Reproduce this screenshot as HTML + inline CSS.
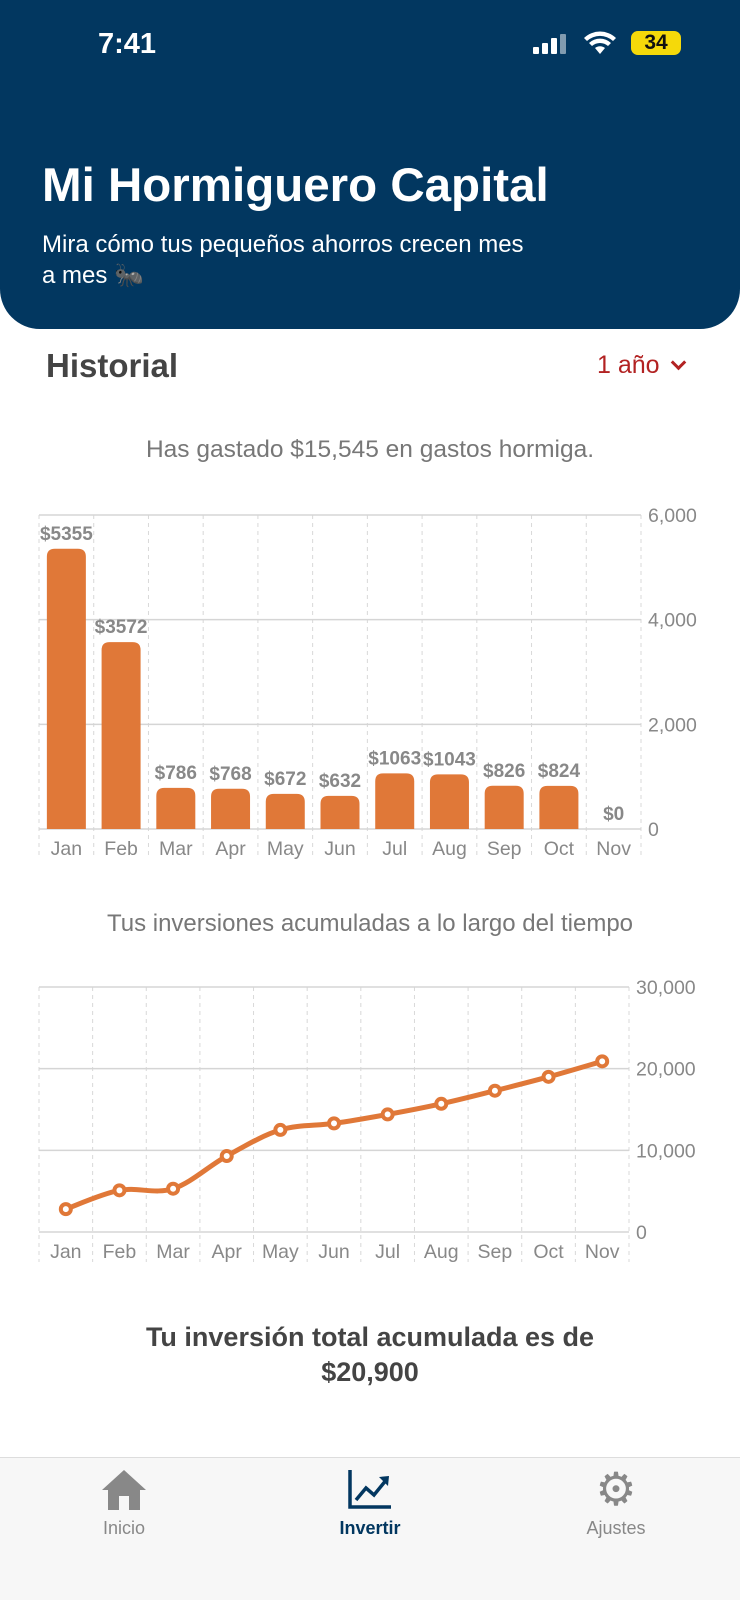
<!DOCTYPE html>
<html><head><meta charset="utf-8"><style>
*{margin:0;padding:0;box-sizing:border-box}
body{width:740px;height:1600px;background:#fff;font-family:"Liberation Sans","Noto Sans CJK JP",sans-serif;position:relative;overflow:hidden}
.abs{position:absolute}
</style></head><body>
<div class="abs" style="left:0;top:0;width:740px;height:329px;background:#023760;border-radius:0 0 40px 40px"></div>
<div class="abs" style="left:98px;top:28px;color:#fff;font-size:29px;font-weight:bold">7:41</div>
<div class="abs" style="left:533px;top:34px;width:38px;height:20px">
<div class="abs" style="left:0;top:13px;width:6px;height:7px;background:#fff;border-radius:1px"></div>
<div class="abs" style="left:9px;top:9px;width:6px;height:11px;background:#fff;border-radius:1px"></div>
<div class="abs" style="left:18px;top:4px;width:6px;height:16px;background:#fff;border-radius:1px"></div>
<div class="abs" style="left:27px;top:0;width:6px;height:20px;background:#fff;border-radius:1px;opacity:.5"></div></div>
<svg class="abs" style="left:583px;top:30px" width="34" height="26" viewBox="0 0 34 26"><path d="M17 24 L12 18 A8 8 0 0 1 22 18Z M6 13 A16 16 0 0 1 28 13 L25 16 A12 12 0 0 0 9 16Z M1 8 A23 23 0 0 1 33 8 L30 11 A19 19 0 0 0 4 11Z" fill="#fff"/></svg>
<div class="abs" style="left:631px;top:31px;width:50px;height:24px;background:#f5d90a;border-radius:7px;font-weight:bold;font-size:21px;text-align:center;line-height:24px;color:#111">34</div>
<div class="abs" style="left:42px;top:158px;color:#fff;font-size:47.5px;font-weight:bold">Mi Hormiguero Capital</div>
<div class="abs" style="left:42px;top:229px;width:600px;color:#fff;font-size:24px;line-height:31px">Mira cómo tus pequeños ahorros crecen mes<br>a mes 🐜</div>
<div class="abs" style="left:46px;top:347px;color:#444;font-size:33px;font-weight:bold">Historial</div>
<div class="abs" style="left:597px;top:351px;color:#b22222;font-size:25px">1 año <span style="display:inline-block;width:11px;height:11px;border-right:3px solid #b22222;border-bottom:3px solid #b22222;transform:rotate(45deg);margin-left:6px;position:relative;top:-5px"></span></div>
<div class="abs" style="left:0;width:740px;top:436px;text-align:center;color:#777;font-size:24.5px">Has gastado $15,545 en gastos hormiga.</div>
<svg class="abs" id="bar" style="left:0;top:490px" width="740" height="380"></svg>
<div class="abs" style="left:0;width:740px;top:910px;text-align:center;color:#777;font-size:24px">Tus inversiones acumuladas a lo largo del tiempo</div>
<svg class="abs" id="line" style="left:0;top:960px" width="740" height="320"></svg>
<div class="abs" style="left:0;width:740px;top:1320px;text-align:center;color:#444;font-size:27px;font-weight:bold;line-height:35px">Tu inversión total acumulada es de<br>$20,900</div>
<div class="abs" style="left:0;top:1457px;width:740px;height:143px;background:#f7f7f7;border-top:1px solid #ddd"></div>
<svg class="abs" style="left:100px;top:1468px" width="48" height="44" viewBox="0 0 48 44"><path d="M24 2 L2 22 L8 22 L8 42 L40 42 L40 22 L46 22Z" fill="#888"/><rect x="19" y="28" width="10" height="14" fill="#f7f7f7"/></svg>
<div class="abs" style="left:89px;top:1518px;width:70px;text-align:center;color:#888;font-size:18px">Inicio</div>
<svg class="abs" style="left:347px;top:1468px" width="46" height="42" viewBox="0 0 46 42"><path d="M3 2 V39 H44" stroke="#023760" stroke-width="3.5" fill="none"/><path d="M9 32 L19 20 L27 27 L40 11" stroke="#023760" stroke-width="3.5" fill="none"/><path d="M32 9 L42 8 L41 18Z" fill="#023760"/></svg>
<div class="abs" style="left:325px;top:1518px;width:90px;text-align:center;color:#023760;font-size:18px;font-weight:bold">Invertir</div>
<div class="abs" style="left:593px;top:1466px;width:46px;height:46px;color:#888;font-size:46px;line-height:46px;text-align:center">⚙</div>
<div class="abs" style="left:571px;top:1518px;width:90px;text-align:center;color:#888;font-size:18px">Ajustes</div>
<script>
const months=["Jan","Feb","Mar","Apr","May","Jun","Jul","Aug","Sep","Oct","Nov"];
const spending=[5355,3572,786,768,672,632,1063,1043,826,824,0];
const barTicks=[0,2000,4000,6000];
const invest=[2800,5100,5300,9300,12500,13300,14400,15700,17300,19000,20900];
const lineTicks=[0,10000,20000,30000];
const NS="http://www.w3.org/2000/svg";
function mk(p,t,a){const e=document.createElementNS(NS,t);for(const k in a)e.setAttribute(k,a[k]);p.appendChild(e);return e;}
function grid(svg,L,R,T,B,max,ticks,n){
 const y=v=>B-(v/max)*(B-T);const cw=(R-L)/n;
 for(let i=0;i<=n;i++){const g=mk(svg,'line',{x1:L+i*cw,x2:L+i*cw,y1:T,y2:B+30,stroke:'#d8d8d8','stroke-dasharray':'4,4'});}
 ticks.forEach(t=>{const g=mk(svg,'line',{x1:L,x2:R,y1:y(t),y2:y(t),stroke:'#d5d5d5','stroke-width':1.5});
  const tx=mk(svg,'text',{x:R+7,y:y(t)+7,fill:'#888','font-size':19.5});tx.textContent=t.toLocaleString('en-US');});
 months.forEach((m,i)=>{const tx=mk(svg,'text',{x:L+cw*(i+.5),y:B+26,fill:'#888','font-size':19.5,'text-anchor':'middle'});tx.textContent=m;});
 return {y,cw};}
(function(){const s=document.getElementById('bar');const L=39,R=641,T=25,B=339;
 const {y,cw}=grid(s,L,R,T,B,6000,barTicks,months.length);
 spending.forEach((v,i)=>{const cx=L+cw*(i+.5),w=39,top=y(v),h=B-top;
  if(h>0){const p=mk(s,'path',{d:`M${cx-w/2} ${B} V${top+8} Q${cx-w/2} ${top} ${cx-w/2+8} ${top} H${cx+w/2-8} Q${cx+w/2} ${top} ${cx+w/2} ${top+8} V${B}Z`,fill:'#e07838'});}
  const t=mk(s,'text',{x:cx,y:top-9,fill:'#888','font-size':19,'font-weight':'bold','text-anchor':'middle'});t.textContent='$'+v;});})();
(function(){const s=document.getElementById('line');const L=39,R=629,T=27,B=272;
 const {y,cw}=grid(s,L,R,T,B,30000,lineTicks,months.length);
 const pts=invest.map((v,i)=>[L+cw*(i+.5),y(v)]);
 let d=`M${pts[0][0]} ${pts[0][1]}`;
 for(let i=0;i<pts.length-1;i++){const p0=pts[Math.max(i-1,0)],p1=pts[i],p2=pts[i+1],p3=pts[Math.min(i+2,pts.length-1)];
  d+=` C${p1[0]+(p2[0]-p0[0])/6} ${p1[1]+(p2[1]-p0[1])/6} ${p2[0]-(p3[0]-p1[0])/6} ${p2[1]-(p3[1]-p1[1])/6} ${p2[0]} ${p2[1]}`;}
 const p=mk(s,'path',{d:d,fill:'none',stroke:'#e07838','stroke-width':5,'stroke-linejoin':'round'});
 pts.forEach((q,i)=>{const c=mk(s,'circle',{cx:q[0],cy:q[1],r:5,fill:'#fff',stroke:'#e07838','stroke-width':4});});})();
</script>
</body></html>
